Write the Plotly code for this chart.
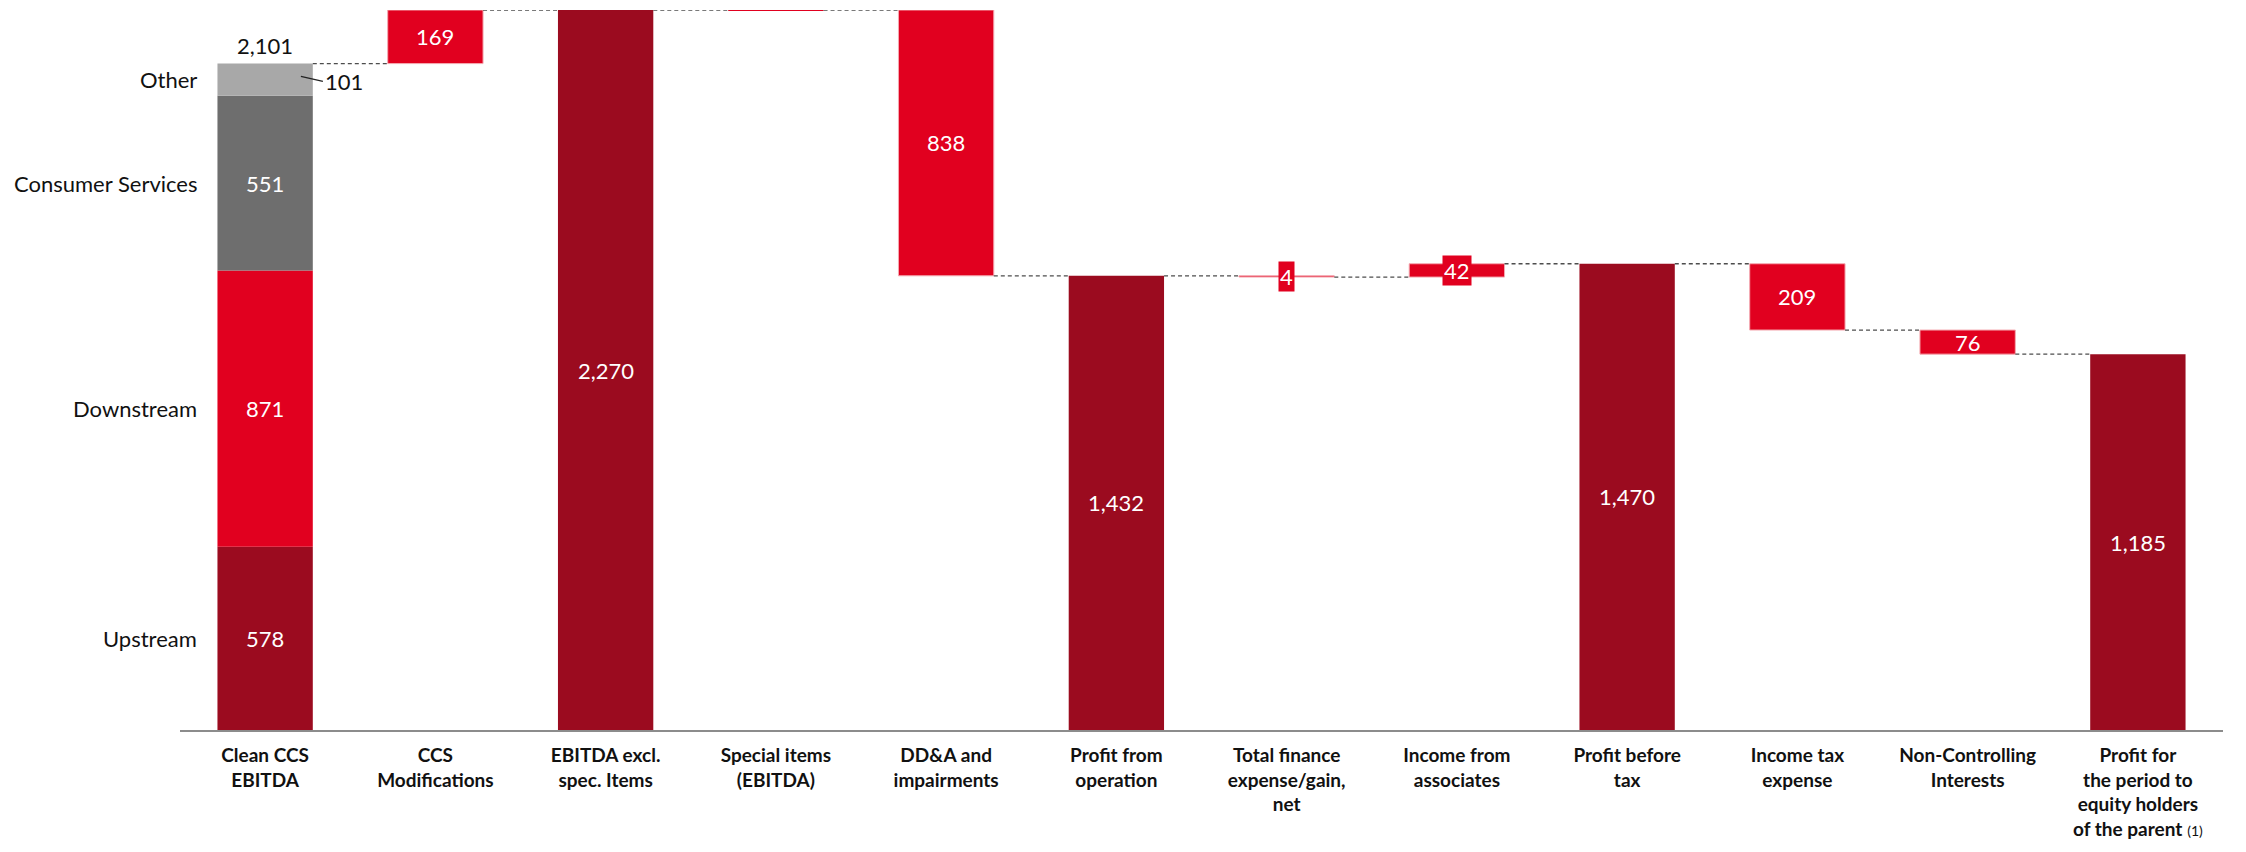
import plotly.graph_objects as go

# ---------------- data ----------------
categories = [
    "Clean CCS<br>EBITDA",
    "CCS<br>Modifications",
    "EBITDA excl.<br>spec. Items",
    "Special items<br>(EBITDA)",
    "DD&A and<br>impairments",
    "Profit from<br>operation",
    "Total finance<br>expense/gain,<br>net",
    "Income from<br>associates",
    "Profit before<br>tax",
    "Income tax<br>expense",
    "Non-Controlling<br>Interests",
    "Profit for<br>the period to<br>equity holders<br>of the parent",
]
footnote_index = 11
footnote_text = "(1)"

kinds = ["stack", "delta", "total", "delta", "delta", "total",
         "delta", "delta", "total", "delta", "delta", "total"]
values = [2101, 169, 2270, 0, -838, 1432, -4, 42, 1470, -209, -76, 1185]

segment_names = ["Upstream", "Downstream", "Consumer Services", "Other"]
segment_values = [578, 871, 551, 101]

# ---------------- style ----------------
DARK = "#9B0B1F"
RED = "#E1001F"
SEG_COLORS = [DARK, RED, "#6E6E6E", "#A8A8A8"]
OUTLINE = "#F4A9B1"
CONN = "#4D4D4D"
BAR_W = 0.56
FONT = "Lato, 'Open Sans', sans-serif"
TICK_FONT = "Lato, sans-serif"
W, H = 2246, 852
PAGE_OFFSET = 8  # default body margin of the html page
SMALL_BAR = 60   # below this size, the label gets a red box


def fmt(v):
    return f"{abs(v):,}"


fig = go.Figure()
annotations = []

level = 0
ends = []
xs_tot, base_tot, h_tot = [], [], []
xs_d, base_d, h_d = [], [], []
zero_lines_x, zero_lines_y = [], []
for i, (k, v) in enumerate(zip(kinds, values)):
    if k == "stack":
        level = sum(segment_values)
    elif k == "total":
        xs_tot.append(i); base_tot.append(0); h_tot.append(v)
        level = v
    else:
        start = level
        end = level + v
        if v == 0:
            zero_lines_x += [i - BAR_W / 2, i + BAR_W / 2, None]
            zero_lines_y += [start, start, None]
        else:
            xs_d.append(i); base_d.append(min(start, end)); h_d.append(abs(v))
        level = end
    ends.append(level)

# stacked first bar
bottom = 0
for name, val, col in zip(segment_names, segment_values, SEG_COLORS):
    fig.add_trace(go.Bar(x=[0], y=[val], base=[bottom], width=BAR_W,
                         marker=dict(color=col, line=dict(width=0)),
                         showlegend=False, hoverinfo="skip"))
    mid = bottom + val / 2
    annotations.append(dict(x=0 - BAR_W / 2, y=mid, xref="x", yref="y",
                            text=name, showarrow=False, xanchor="right",
                            xshift=-18, font=dict(size=22, color="#111", family=FONT)))
    if val >= 300:
        annotations.append(dict(x=0, y=mid, xref="x", yref="y", text=fmt(val),
                                showarrow=False, font=dict(size=22, color="white", family=FONT)))
    else:
        annotations.append(dict(x=0 + BAR_W / 2 - 0.07, y=mid + 10, xref="x", yref="y",
                                text=fmt(val), showarrow=True, arrowhead=0,
                                arrowwidth=1.2, arrowcolor="#222", ax=22, ay=5,
                                xanchor="left", standoff=0,
                                font=dict(size=22, color="#111", family=FONT)))
    bottom += val
annotations.append(dict(x=0, y=bottom, xref="x", yref="y", text=fmt(values[0]),
                        showarrow=False, yanchor="bottom", yshift=3,
                        font=dict(size=22, color="#111", family=FONT)))

fig.add_trace(go.Bar(x=xs_tot, y=h_tot, base=base_tot, width=BAR_W,
                     marker=dict(color=DARK, line=dict(width=0)),
                     showlegend=False, hoverinfo="skip"))
fig.add_trace(go.Bar(x=xs_d, y=h_d, base=base_d, width=BAR_W,
                     marker=dict(color=RED, line=dict(width=1, color=OUTLINE)),
                     showlegend=False, hoverinfo="skip"))
fig.add_trace(go.Scatter(x=zero_lines_x, y=zero_lines_y, mode="lines",
                         line=dict(color=RED, width=2), showlegend=False,
                         hoverinfo="skip"))

cx, cy = [], []
for i in range(len(values) - 1):
    cx += [i + BAR_W / 2, i + 1 - BAR_W / 2, None]
    cy += [ends[i], ends[i], None]
fig.add_trace(go.Scatter(x=cx, y=cy, mode="lines",
                         line=dict(color=CONN, width=1.3, dash="4px,3px"),
                         showlegend=False, hoverinfo="skip"))

for x, b, h in zip(xs_tot, base_tot, h_tot):
    annotations.append(dict(x=x, y=b + h / 2, xref="x", yref="y", text=fmt(h),
                            showarrow=False, font=dict(size=22, color="white", family=FONT)))
for x, b, h in zip(xs_d, base_d, h_d):
    small = h < SMALL_BAR
    annotations.append(dict(x=x, y=b + h / 2, xref="x", yref="y", text=fmt(h),
                            showarrow=False,
                            bgcolor=RED if small else "rgba(0,0,0,0)",
                            borderpad=1,
                            font=dict(size=22, color="white", family=FONT)))

ticktext = []
for i, c in enumerate(categories):
    t = f"<b>{c}</b>"
    if i == footnote_index:
        t += f" <span style='font-size:14px'>{footnote_text}</span>"
    ticktext.append(t)

plot_left, plot_right, plot_top, plot_bottom = 180, 2223, 10, 730
fig.update_layout(
    width=W, height=H,
    margin=dict(l=plot_left - PAGE_OFFSET, r=W - plot_right + PAGE_OFFSET,
                t=plot_top - PAGE_OFFSET, b=H - plot_bottom + PAGE_OFFSET,
                autoexpand=False),
    plot_bgcolor="white", paper_bgcolor="white",
    barmode="overlay",
    annotations=annotations,
    xaxis=dict(range=[-0.5, len(categories) - 0.5], tickmode="array",
               tickvals=list(range(len(categories))), ticktext=ticktext,
               showline=True, linecolor="#8C8C8C", linewidth=2,
               showgrid=False, zeroline=False, ticks="", automargin=False,
               ticklabelstandoff=7,
               tickfont=dict(size=19, color="#111", family=TICK_FONT)),
    yaxis=dict(range=[0, 2270], visible=False, showgrid=False, zeroline=False),
    font=dict(family=FONT),
)

fig.write_html("out.html")
